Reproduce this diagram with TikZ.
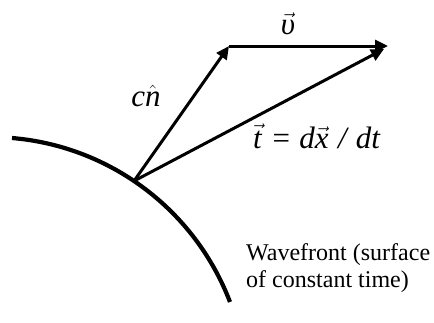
\documentclass[tikz,border=0pt]{standalone}
\usepackage{fontspec}
\setmainfont{Liberation Serif}
\usetikzlibrary{arrows.meta}
\begin{document}
\begin{tikzpicture}[x=1pt,y=-1pt,
  vecline/.style={line width=3pt,-{Triangle[length=13pt,width=12pt]}},
  lbl/.style={font=\fontsize{24}{27}\selectfont, inner sep=0pt},
  mlbl/.style={font=\fontsize{31}{34}\selectfont, inner sep=0pt}]
\useasboundingbox (0,0) rectangle (434,322);
% wavefront arc
\draw[line width=4.2pt] (12,138) arc[start angle=-85.2, end angle=-20.9, radius=256.3];
\coordinate (P) at (134,181);
\coordinate (N) at (229,46);
\coordinate (V) at (388,46);
\coordinate (T) at (384,49);
\draw[vecline] (P) -- (N);
\draw[line width=3pt] (N) -- ++(2,0);
\draw[vecline] (N) -- (V);
\draw[vecline] (P) -- (T);
\node[mlbl] (lv) at (288,24) {$\vec{\mbox{\itshape υ}}$};
\node[mlbl] (ln) at (146,96) {\itshape c$\hat{\mbox{\itshape n}}$};
\node[mlbl, anchor=base west] (lt) at (253,148) {$\vec{\mbox{\itshape t}}$\hspace{0.35em}=\hspace{0.3em}\itshape d$\vec{\mbox{\itshape x}}$\hspace{0.3em}/\hspace{0.3em}dt};
\node[lbl, anchor=base west, align=left] (lw) at (246,287) {Wavefront (surface\\of constant time)};
\end{tikzpicture}
\end{document}
